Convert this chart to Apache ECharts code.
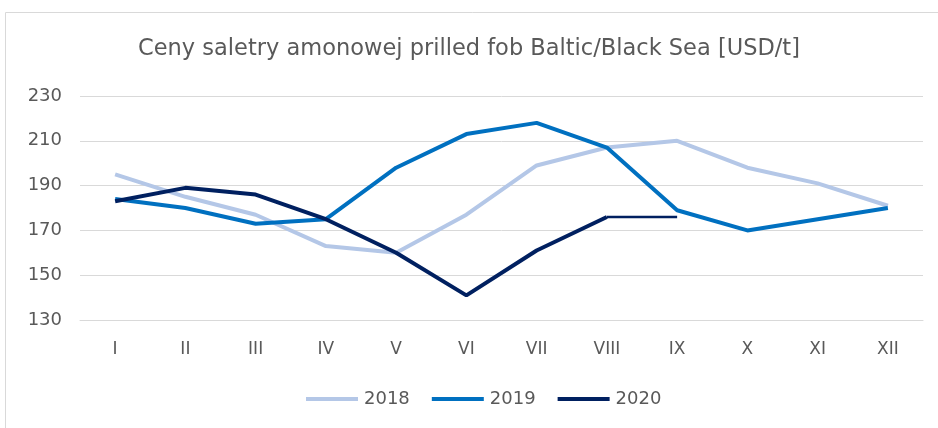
<!DOCTYPE html>
<html>
<head>
<meta charset="utf-8">
<script src="https://cdn.jsdelivr.net/npm/echarts@6/dist/echarts.min.js"></script>
<style>
  html, body { margin: 0; padding: 0; background: #fff; }
  #chart { width: 938px; height: 428px; }
</style>
</head>
<body>
<div id="chart"></div>
<script>
// miesiące
const months = ['I', 'II', 'III', 'IV', 'V', 'VI', 'VII', 'VIII', 'IX', 'X', 'XI', 'XII'];
// ceny USD/t
const y2018 = [195, 185, 177, 163, 160, 177, 199, 207, 210, 198, 191, 181];
const y2019 = [184, 180, 173, 175, 198, 213, 218, 207, 179, 170, 175, 180];
const y2020 = [183, 189, 186, 175, 160, 141, 161, 176, null, null, null, null];
// końcówka 2020 (cieńsza linia VIII-IX)
const y2020tail = [null, null, null, null, null, null, null, 176, 176, null, null, null];

const colors = ['#b4c7e7', '#0070c0', '#002060'];
const txt = '#595959';
const font = 'DejaVu Sans';

let chart = echarts.init(document.getElementById('chart'));

function lineSeries(name, data, color, w) {
    return {
        name: name,
        type: 'line',
        data: data,
        symbol: 'none',
        smooth: false,
        lineStyle: { color: color, width: w },
        itemStyle: { color: color }
    }
}

let option = {
    animation: false,
    color: colors,
    graphic: [{
        type: 'rect',
        shape: { x: 5.5, y: 12.5, width: 940, height: 430 },
        style: { fill: 'none', stroke: '#d9d9d9', lineWidth: 1 }
    }],
    title: {
        text: 'Ceny saletry amonowej prilled fob Baltic/Black Sea [USD/t]',
        left: 'center',
        top: 33,
        textStyle: { color: txt, fontSize: 22.5, fontWeight: 'normal', fontFamily: font }
    },
    legend: {
        bottom: 15,
        left: 301,
        itemWidth: 52,
        itemHeight: 4,
        itemGap: 22,
        icon: 'rect',
        textStyle: { color: txt, fontSize: 18, fontFamily: font, padding: [0, 0, 0, 1] },
        data: ['2018', '2019', '2020']
    },
    grid: { left: 80, right: 15, top: 96, bottom: 108 },
    xAxis: {
        type: 'category',
        data: months,
        boundaryGap: true,
        axisLine: { show: true, lineStyle: { color: '#d9d9d9', width: 1 } },
        axisTick: { show: false },
        axisLabel: { color: txt, fontSize: 17, fontFamily: font, margin: 21 }
    },
    yAxis: {
        type: 'value',
        min: 130,
        max: 230,
        interval: 20,
        axisLine: { show: false },
        axisTick: { show: false },
        splitLine: { lineStyle: { color: '#d9d9d9', width: 1 } },
        axisLabel: { color: txt, fontSize: 18, fontFamily: font, margin: 18 }
    },
    series: [
        lineSeries('2018', y2018, colors[0], 4),
        lineSeries('2019', y2019, colors[1], 4),
        lineSeries('2020', y2020, colors[2], 4),
        lineSeries('2020 ', y2020tail, colors[2], 2.5)
    ]
};

chart.setOption(option);
</script>
</body>
</html>
